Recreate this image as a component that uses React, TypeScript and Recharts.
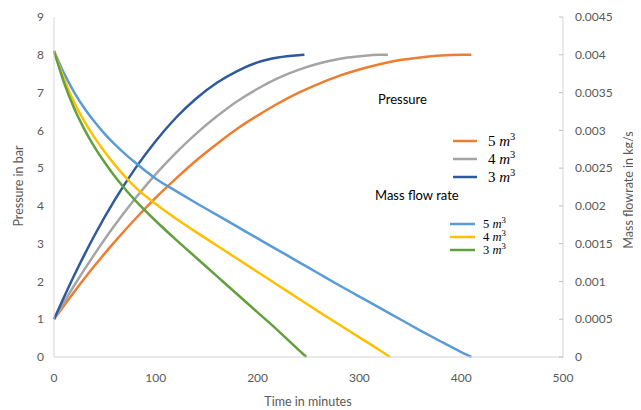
import React from 'react';
import { LineChart, Line, XAxis, YAxis } from 'recharts';

// time (minutes) and values
const tPressure5 = [0, 20, 40, 60, 80, 100, 120, 140, 160, 180, 200, 220, 240, 260, 280, 300, 320, 340, 360, 380, 400, 410];
const pressure5 = [1.0, 1.73, 2.42, 3.06, 3.66, 4.22, 4.73, 5.21, 5.64, 6.04, 6.39, 6.71, 6.99, 7.23, 7.44, 7.61, 7.75, 7.86, 7.93, 7.98, 8.0, 8.0];

const tPressure4 = [0, 20, 40, 60, 80, 100, 120, 140, 160, 180, 200, 220, 240, 260, 280, 300, 320, 328];
const pressure4 = [1.0, 1.9, 2.73, 3.5, 4.2, 4.84, 5.41, 5.92, 6.37, 6.77, 7.1, 7.38, 7.6, 7.77, 7.89, 7.96, 8.0, 8.0];

const tPressure3 = [0, 20, 40, 60, 80, 100, 120, 140, 160, 180, 200, 220, 240, 246];
const pressure3 = [1.0, 2.17, 3.23, 4.17, 5.0, 5.72, 6.34, 6.85, 7.26, 7.57, 7.8, 7.93, 7.99, 8.0];

// mass flow rate, kg/s
const tFlow5 = [0, 10, 20, 30, 40, 50, 60, 70, 80, 100, 120, 140, 160, 180, 200, 220, 240, 260, 280, 300, 320, 340, 360, 380, 400, 410];
const flow5 = [0.00405, 0.00375, 0.0035, 0.00329, 0.00311, 0.00295, 0.00281, 0.002685, 0.00257, 0.00236, 0.002195, 0.002035, 0.00188, 0.001725, 0.00157, 0.001415, 0.00126, 0.001105, 0.00095, 0.0008, 0.00065, 0.0005, 0.00035, 0.000205, 0.000065, 0];

const tFlow4 = [0, 10, 20, 30, 40, 50, 60, 70, 80, 100, 120, 140, 160, 180, 200, 220, 240, 260, 280, 300, 320, 330];
const flow4 = [0.00405, 0.003675, 0.003365, 0.003115, 0.0029, 0.00271, 0.00254, 0.002385, 0.002245, 0.002025, 0.00183, 0.00165, 0.001475, 0.0013, 0.001125, 0.00095, 0.000775, 0.0006, 0.00043, 0.00026, 0.00009, 0];

const tFlow3 = [0, 10, 20, 30, 40, 50, 60, 70, 80, 100, 120, 140, 160, 180, 200, 220, 240, 248];
const flow3 = [0.00405, 0.003625, 0.003285, 0.00301, 0.002775, 0.00257, 0.002385, 0.00222, 0.00207, 0.0018, 0.00155, 0.00131, 0.00107, 0.00083, 0.00059, 0.00035, 0.000098, 0];

const xTicks = [0, 100, 200, 300, 400, 500];
const pressureTicks = [0, 1, 2, 3, 4, 5, 6, 7, 8, 9];
const flowTicks = [0, 0.0005, 0.001, 0.0015, 0.002, 0.0025, 0.003, 0.0035, 0.004, 0.0045];

const pressureLegend = ['5', '4', '3'];
const flowLegend = ['5', '4', '3'];

const toPoints = (ts: number[], vs: number[]) => ts.map((t, i) => ({ t, v: vs[i] }));

const C = {
  orange: '#ED7D31',
  gray: '#A5A5A5',
  darkBlue: '#2E5A9C',
  blue: '#5B9BD5',
  yellow: '#FFC000',
  green: '#62A03F',
};

const pressureSeries = [
  { name: '5', data: toPoints(tPressure5, pressure5), color: C.orange },
  { name: '4', data: toPoints(tPressure4, pressure4), color: C.gray },
  { name: '3', data: toPoints(tPressure3, pressure3), color: C.darkBlue },
];
const flowSeries = [
  { name: '5', data: toPoints(tFlow5, flow5), color: C.blue },
  { name: '4', data: toPoints(tFlow4, flow4), color: C.yellow },
  { name: '3', data: toPoints(tFlow3, flow3), color: C.green },
];

const W = 633;
const H = 402;
const axisColor = '#D4D4D4';
const tickStyle = { fill: '#595959', fontSize: 12, fontFamily: 'Lato' };

const MathLabel = ({ x, y, n, size }: { x: number; y: number; n: string; size: number }) => (
  <text x={x} y={y} fontFamily="Liberation Serif" fontSize={size} fill="#000">
    <tspan>{n} </tspan>
    <tspan fontStyle="italic">m</tspan>
    <tspan fontSize={size * 0.7} dy={-size * 0.4}>3</tspan>
  </text>
);

const Overlay = () => {
  const pRows = [133, 151, 169];
  const fRows = [216, 229, 242];
  return (
    <svg width={W} height={H} style={{ position: 'absolute', left: 0, top: 0, pointerEvents: 'none' }}>
      <text x={370} y={96} fontFamily="Lato" fontSize={13} fill="#000">Pressure</text>
      {pressureLegend.map((n, i) => (
        <g key={'p' + n}>
          <line x1={445} x2={469} y1={pRows[i]} y2={pRows[i]} stroke={pressureSeries[i].color} strokeWidth={2.5} />
          <MathLabel x={480} y={pRows[i] + 5} n={n} size={15} />
        </g>
      ))}
      <text x={367} y={192} fontFamily="Lato" fontSize={13} fill="#000">Mass flow rate</text>
      {flowLegend.map((n, i) => (
        <g key={'f' + n}>
          <line x1={442} x2={467} y1={fRows[i]} y2={fRows[i]} stroke={flowSeries[i].color} strokeWidth={2.5} />
          <MathLabel x={475} y={fRows[i] + 4} n={n} size={12.5} />
        </g>
      ))}
      <text x={300} y={398} textAnchor="middle" fontFamily="Lato" fontSize={12.5} fill="#595959">Time  in minutes</text>
      <text x={10} y={178} transform="rotate(-90 10 178)" textAnchor="middle" dominantBaseline="central"
        fontFamily="Lato" fontSize={12.5} fill="#595959">Pressure in bar</text>
      <text x={620} y={182} transform="rotate(-90 620 182)" textAnchor="middle" dominantBaseline="central"
        fontFamily="Lato" fontSize={12.5} fill="#595959">Mass flowrate in kg/s</text>
    </svg>
  );
};

export default function App() {
  return (
    <div style={{ position: 'relative', width: W, height: H }}>
      <LineChart width={W} height={H} margin={{ top: 9, right: 18, bottom: 13, left: 6 }}>
        <XAxis type="number" dataKey="t" domain={[0, 500]} ticks={xTicks} allowDuplicatedCategory={false}
          axisLine={{ stroke: axisColor }} tickLine={false} tickSize={0} tickMargin={16} tick={tickStyle} height={40} />
        <YAxis yAxisId="p" domain={[0, 9]} ticks={pressureTicks} width={40}
          axisLine={{ stroke: axisColor }} tickLine={false} tickSize={0} tickMargin={10} tick={tickStyle} />
        <YAxis yAxisId="m" orientation="right" domain={[0, 0.0045]} ticks={flowTicks} width={60}
          axisLine={{ stroke: axisColor }} tickLine={{ stroke: '#BFBFBF' }} tickSize={-4} tickMargin={16} tick={tickStyle} />
        {pressureSeries.map((s) => (
          <Line key={'p' + s.name} yAxisId="p" data={s.data} dataKey="v" type="monotone" stroke={s.color}
            strokeWidth={2.5} dot={false} isAnimationActive={false} />
        ))}
        {flowSeries.map((s) => (
          <Line key={'m' + s.name} yAxisId="m" data={s.data} dataKey="v" type="monotone" stroke={s.color}
            strokeWidth={2.5} dot={false} isAnimationActive={false} />
        ))}
      </LineChart>
      <Overlay />
    </div>
  );
}
